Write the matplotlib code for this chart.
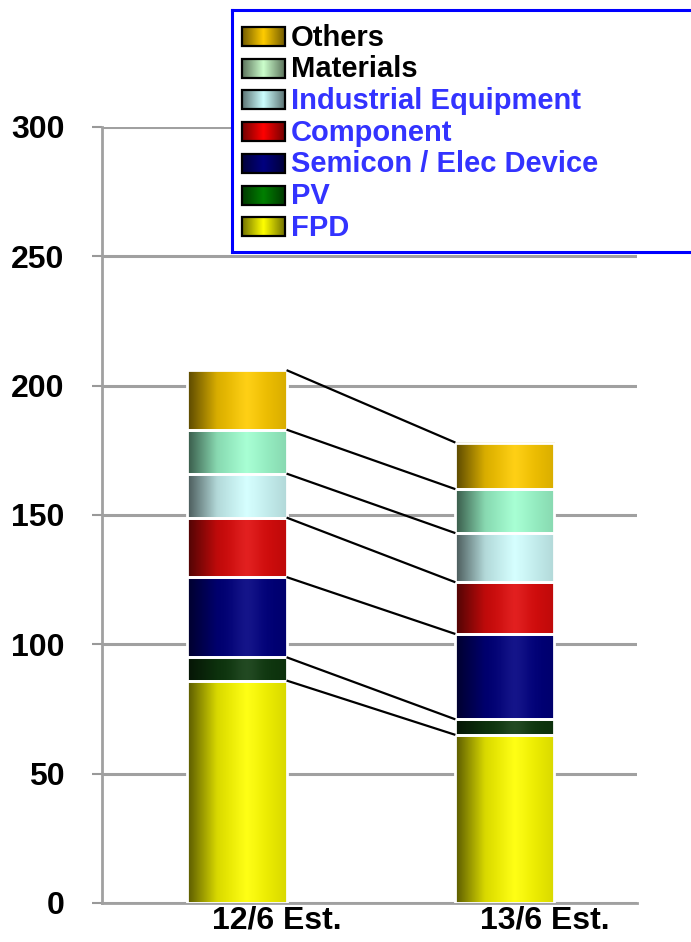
import numpy as np
import matplotlib.pyplot as plt
from matplotlib.colors import to_rgb
from matplotlib.transforms import ScaledTranslation

plt.rcParams["font.family"] = ["Liberation Sans", "DejaVu Sans"]
plt.rcParams["font.weight"] = "bold"

periods = ["12/6 Est.", "13/6 Est."]
segments = ["FPD", "PV", "Semicon / Elec Device", "Component",
            "Industrial Equipment", "Materials", "Others"]
fpd = [86, 65]
pv = [9, 6]
semicon = [31, 33]
component = [23, 20]
industrial = [17, 19]
materials = [17, 17]
others = [23, 18]
values = [fpd, pv, semicon, component, industrial, materials, others]

bar_colors = ["#ffff00", "#0f3a0f", "#000080", "#e00c0c",
              "#d2ffff", "#a0ffd0", "#ffcc00"]
swatch_colors = ["#ffff00", "#008000", "#000080", "#ff0000",
                 "#ccffff", "#ccffcc", "#ffcc00"]
label_colors = ["#3333ff"] * 5 + ["black", "black"]


def shaded(color, knots, levels, glint=0.08, n=96):
    """Horizontal shading strip: darker at the edges, glint near the middle."""
    xs = np.linspace(0, 1, n)
    k = np.interp(xs, knots, levels)
    rgb = np.array(to_rgb(color))
    g = rgb[None, :] * k[:, None]
    hl = glint * np.exp(-((xs - 0.6) / 0.15) ** 2)
    g = g + (1 - g) * hl[:, None]
    return np.clip(g, 0, 1)[None, :, :]


fig = plt.figure(figsize=(6.91, 9.42), dpi=100)
ax = fig.add_axes([102 / 691, 39 / 942, 535 / 691, 776 / 942])

x = np.arange(len(periods))
width = 0.37
bottom = np.zeros(len(periods))
tops = []
for vals, col in zip(values, bar_colors):
    bars = ax.bar(x, vals, width, bottom=bottom, facecolor="none",
                  edgecolor="white", linewidth=2, zorder=3)
    strip = shaded(col, [0, 0.3, 0.6, 1], [0.35, 0.85, 1.0, 0.85])
    for r in bars:
        ax.imshow(strip, extent=[r.get_x(), r.get_x() + r.get_width(),
                                 r.get_y(), r.get_y() + r.get_height()],
                  origin="lower", aspect="auto", interpolation="bilinear",
                  zorder=2)
    bottom = bottom + np.array(vals)
    tops.append(bottom.copy())

# connectors between matching segment tops
for t in tops:
    ax.plot([x[0] + width / 2, x[1] - width / 2], [t[0], t[1]],
            color="black", lw=1.6, zorder=4, solid_capstyle="butt")

ax.set_xlim(-0.504, 1.493)
ax.set_ylim(0, 300)
ax.set_yticks(np.arange(0, 301, 50))
ax.set_xticks(x)
ax.set_xticklabels(periods, fontsize=23, fontweight="bold")
ax.tick_params(axis="x", length=0, pad=2)
ax.tick_params(axis="y", length=7, width=1.5, color="#999999", pad=20,
               labelsize=23)
# category labels sit a little right of the bar centres
shift = ScaledTranslation(40 / 100, 0, fig.dpi_scale_trans)
for lbl in ax.get_xticklabels():
    lbl.set_transform(lbl.get_transform() + shift)
ax.yaxis.grid(True, color="#a0a0a0", lw=2.2, zorder=0)
ax.set_axisbelow(True)
for s in ["top", "right"]:
    ax.spines[s].set_visible(False)
for s in ["left", "bottom"]:
    ax.spines[s].set_color("#a0a0a0")
    ax.spines[s].set_linewidth(2)

# legend panel, drawn in pixel coordinates
lax = fig.add_axes([232 / 691, (942 - 252) / 942, 480 / 691, 242 / 942])
lax.set_xticks([])
lax.set_yticks([])
lax.set_facecolor("white")
for s in lax.spines.values():
    s.set_color("#0000ff")
    s.set_linewidth(2.2)

row_y = 36.5 + 31.7 * np.arange(len(segments))
order = list(range(len(segments)))[::-1]
for yy, i in zip(row_y, order):
    strip = shaded(swatch_colors[i], [0, 0.5, 1], [0.45, 1.0, 0.45], glint=0.0)
    lax.imshow(strip, extent=[242, 285, yy + 9.5, yy - 9.5], aspect="auto",
               interpolation="bilinear", zorder=2)
    lax.add_patch(plt.Rectangle((242, yy - 9.5), 43, 19, fill=False,
                                edgecolor="black", lw=1.6, zorder=3))
    lax.text(291, yy + 1, segments[i], color=label_colors[i], fontsize=21,
             fontweight="bold", va="center", ha="left")
lax.set_xlim(232, 712)
lax.set_ylim(252, 10)

fig.savefig("out.png", dpi=100)
